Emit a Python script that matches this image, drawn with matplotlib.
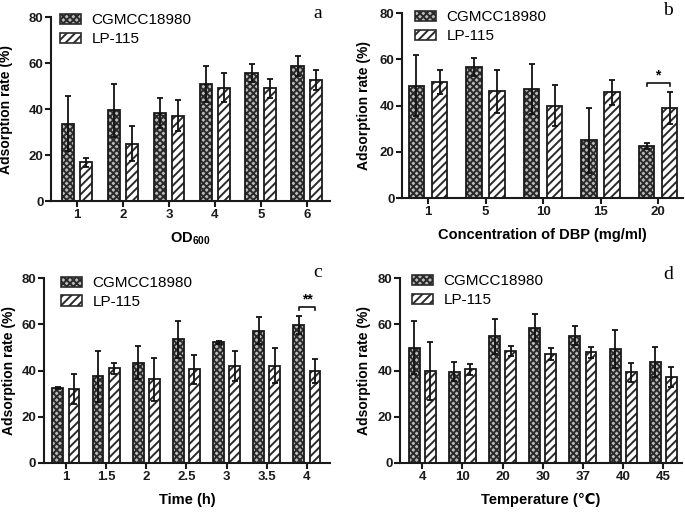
import numpy as np
import matplotlib
matplotlib.use("Agg")
import matplotlib.pyplot as plt
from matplotlib.patches import Patch

plt.rcParams["font.family"] = ["Liberation Sans", "DejaVu Sans"]
plt.rcParams["mathtext.fontset"] = "custom"
plt.rcParams["mathtext.bf"] = "Liberation Sans:bold"
plt.rcParams["mathtext.rm"] = "Liberation Sans"
plt.rcParams["hatch.linewidth"] = 1.4

SERIES = ["CGMCC18980", "LP-115"]

# (a) OD600
a_cats = ["1", "2", "3", "4", "5", "6"]
a_cg = [33.7, 39.5, 38.3, 51.0, 55.7, 58.9]
a_cg_err = [12.0, 11.5, 6.7, 7.9, 3.8, 4.3]
a_lp = [16.8, 25.0, 37.2, 49.3, 49.0, 52.7]
a_lp_err = [2.0, 7.6, 6.9, 6.4, 4.3, 4.5]

# (b) DBP concentration
b_cats = ["1", "5", "10", "15", "20"]
b_cg = [48.6, 56.9, 47.3, 24.9, 22.6]
b_cg_err = [13.1, 3.9, 10.8, 14.0, 1.2]
b_lp = [50.3, 46.1, 39.9, 45.7, 38.9]
b_lp_err = [5.3, 9.5, 8.8, 5.5, 6.8]

# (c) time
c_cats = ["1", "1.5", "2", "2.5", "3", "3.5", "4"]
c_cg = [32.4, 37.5, 43.4, 53.5, 52.3, 57.3, 59.7]
c_cg_err = [0.6, 10.9, 7.2, 8.0, 0.6, 5.8, 4.1]
c_lp = [32.1, 40.9, 36.2, 40.5, 41.8, 42.1, 39.8]
c_lp_err = [6.5, 2.3, 9.2, 6.3, 6.5, 7.6, 5.0]

# (d) temperature
d_cats = ["4", "10", "20", "30", "37", "40", "45"]
d_cg = [49.9, 39.5, 54.9, 58.6, 55.0, 49.3, 43.5]
d_cg_err = [11.5, 4.2, 7.6, 5.8, 4.1, 8.3, 6.5]
d_lp = [39.8, 40.5, 48.4, 47.1, 48.0, 39.2, 37.3]
d_lp_err = [12.4, 2.4, 2.2, 2.6, 2.4, 4.2, 4.3]

CG_FACE, CG_HATCH, CG_PAT = "#bcbcbc", "#2a2a2a", "xxxxx"
LP_FACE, LP_HATCH, LP_PAT = "white", "#2a2a2a", "////"
W, OFF = 0.27, 0.20


def hbar(ax, x, h, face, hcol, hatch):
    ax.bar(x, h, W, color=face, edgecolor=hcol, hatch=hatch, lw=0, zorder=2)
    ax.bar(x, h, W, color="none", edgecolor="#1a1a1a", lw=1.3, zorder=3)


def panel(ax, cats, cg, cge, lp, lpe, xlim, xlabel, letter, ylx, leg_xy, let_xy):
    x = np.arange(len(cats))
    hbar(ax, x - OFF, cg, CG_FACE, CG_HATCH, CG_PAT)
    hbar(ax, x + OFF, lp, LP_FACE, LP_HATCH, LP_PAT)
    ax.errorbar(x - OFF, cg, yerr=cge, fmt="none", ecolor="#111", elinewidth=1.3,
                capsize=2.5, capthick=1.3, zorder=4)
    ax.errorbar(x + OFF, lp, yerr=lpe, fmt="none", ecolor="#111", elinewidth=1.3,
                capsize=2.5, capthick=1.3, zorder=4)
    ax.set_xlim(*xlim)
    ax.set_ylim(0, 80)
    ax.set_yticks([0, 20, 40, 60, 80])
    ax.set_xticks(x)
    ax.set_xticklabels(cats)
    for s in ("top", "right"):
        ax.spines[s].set_visible(False)
    for s in ("left", "bottom"):
        ax.spines[s].set_linewidth(1.5)
        ax.spines[s].set_color("#1a1a1a")
    ax.tick_params(direction="out", length=4, width=1.5, labelsize=9.5, pad=1.5, colors="#1a1a1a")
    for t in ax.get_xticklabels() + ax.get_yticklabels():
        t.set_fontweight("bold")
    ax.set_ylabel("Adsorption rate (%)", fontsize=10, fontweight="bold")
    ax.yaxis.set_label_coords(ylx, 0.5)
    ax.set_xlabel(xlabel, fontsize=10.5, fontweight="bold")
    ax.xaxis.set_label_coords(0.5, -0.16)
    handles = [Patch(facecolor=CG_FACE, edgecolor=CG_HATCH, hatch=CG_PAT),
               Patch(facecolor=LP_FACE, edgecolor=LP_HATCH, hatch=LP_PAT)]
    leg = ax.legend(handles, SERIES, loc="upper left", bbox_to_anchor=leg_xy,
                    frameon=False, fontsize=11, handlelength=1.35, handleheight=0.7,
                    labelspacing=0.32, handletextpad=0.7, borderaxespad=0, borderpad=0)
    for p in leg.get_patches():
        p.set_linewidth(1.2)
    ax.text(let_xy[0], let_xy[1], letter, transform=ax.transAxes, fontsize=14,
            family="Liberation Serif", ha="center", va="center")
    return x


def bracket(ax, x0, x1, y, label):
    ax.plot([x0, x0, x1, x1], [y - 1.3, y, y, y - 1.3], color="#111", lw=1.2, zorder=5)
    ax.text((x0 + x1) / 2, y + 0.3, label, ha="center", va="bottom", fontsize=10, fontweight="bold")


fig = plt.figure(figsize=(6.85, 5.15), dpi=100)
ax_a = fig.add_axes([0.0745, 0.6097, 0.407, 0.357])
ax_b = fig.add_axes([0.587, 0.6155, 0.410, 0.359])
ax_c = fig.add_axes([0.064, 0.101, 0.4175, 0.359])
ax_d = fig.add_axes([0.584, 0.101, 0.412, 0.359])

panel(ax_a, a_cats, a_cg, a_cg_err, a_lp, a_lp_err, (-0.565, 5.5),
      r"OD$_{\mathbf{600}}$", "a", -0.136, (0.032, 1.02), (0.957, 1.02))
xb = panel(ax_b, b_cats, b_cg, b_cg_err, b_lp, b_lp_err, (-0.45, 4.43),
           "Concentration of DBP (mg/ml)", "b", -0.11, (0.046, 1.015), (0.947, 1.012))
xc = panel(ax_c, c_cats, c_cg, c_cg_err, c_lp, c_lp_err, (-0.55, 6.57),
           "Time (h)", "c", -0.098, (0.06, 1.01), (0.958, 1.03))
panel(ax_d, d_cats, d_cg, d_cg_err, d_lp, d_lp_err, (-0.55, 6.47),
      "Temperature (\u2103)", "d", -0.103, (0.043, 1.02), (0.95, 1.02))

bracket(ax_b, xb[-1] - OFF, xb[-1] + OFF, 49.7, "*")
bracket(ax_c, xc[-1] - OFF, xc[-1] + OFF, 67.4, "**")

fig.savefig("out.png", dpi=100)
